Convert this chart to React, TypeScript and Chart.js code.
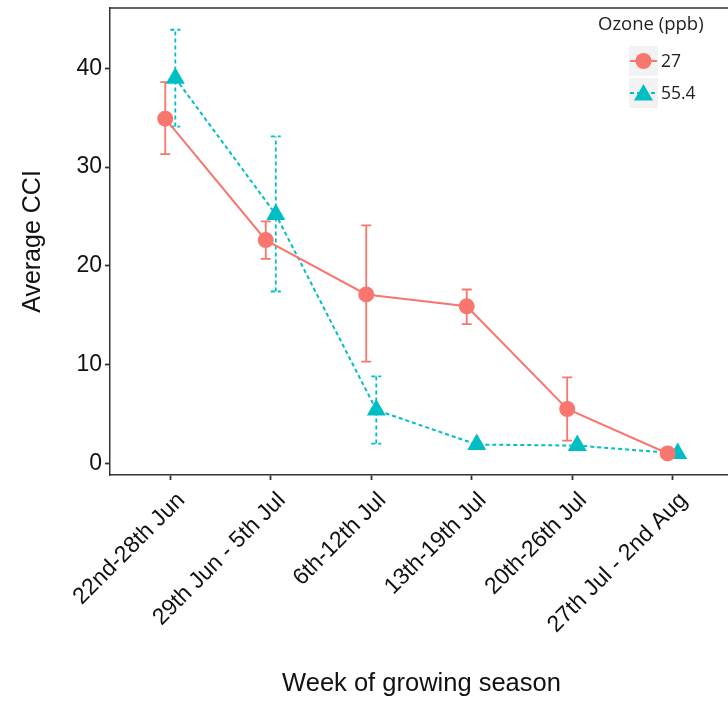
import React, { useEffect, useRef } from "react";
import { Chart, registerables } from "chart.js";

Chart.register(...registerables);

const weeks = [
  "22nd-28th Jun",
  "29th Jun - 5th Jul",
  "6th-12th Jul",
  "13th-19th Jul",
  "20th-26th Jul",
  "27th Jul - 2nd Aug",
];
const ozoneLevels = ["27", "55.4"];
const cci27 = [34.9, 22.6, 17.1, 15.9, 5.5, 1.0];
const cci27Low = [31.3, 20.7, 10.3, 14.1, 2.3, 0.9];
const cci27High = [38.6, 24.5, 24.1, 17.6, 8.7, 1.1];
const cci554 = [39.0, 25.2, 5.4, 1.9, 1.8, 1.0];
const cci554Low = [34.1, 17.4, 2.0, 1.8, 1.7, 0.9];
const cci554High = [43.9, 33.1, 8.8, 2.0, 1.9, 1.1];
const yTicks = [0, 10, 20, 30, 40];

const RED = "#F8766D";
const TEAL = "#00BFC4";
const AXIS = "#333333";
const DODGE = 0.05;

const errorBarPlugin = {
  id: "errorBars",
  beforeDatasetsDraw(chart: any) {
    const ctx = chart.ctx;
    const yScale = chart.scales.y;
    chart.data.datasets.forEach((ds: any, di: number) => {
      const meta = chart.getDatasetMeta(di);
      ctx.save();
      ctx.strokeStyle = ds.borderColor;
      ctx.lineWidth = 1.8;
      ctx.setLineDash(ds.borderDash || []);
      meta.data.forEach((el: any, i: number) => {
        const x = el.x;
        const yl = yScale.getPixelForValue(ds.errLow[i]);
        const yh = yScale.getPixelForValue(ds.errHigh[i]);
        ctx.beginPath();
        ctx.moveTo(x, yl);
        ctx.lineTo(x, yh);
        ctx.moveTo(x - 5, yl);
        ctx.lineTo(x + 5, yl);
        ctx.moveTo(x - 5, yh);
        ctx.lineTo(x + 5, yh);
        ctx.stroke();
      });
      ctx.restore();
    });
  },
};

const framePlugin = {
  id: "frameAndLegend",
  afterDraw(chart: any) {
    const ctx = chart.ctx;
    const a = chart.chartArea;
    ctx.save();
    ctx.strokeStyle = AXIS;
    ctx.lineWidth = 1.5;
    ctx.beginPath();
    ctx.moveTo(a.left, a.top);
    ctx.lineTo(a.right, a.top);
    ctx.lineTo(a.right, a.bottom);
    ctx.stroke();

    // legend
    const lx = 598;
    ctx.fillStyle = "#222";
    ctx.font = "18.5px 'Open Sans'";
    ctx.textAlign = "left";
    ctx.textBaseline = "alphabetic";
    ctx.fillText("Ozone (ppb)", lx, 30);

    const keys = [
      { y: 46, color: RED, style: "circle", radius: 8, dash: [] as number[] },
      { y: 78, color: TEAL, style: "triangle", radius: 11, dash: [4, 3] },
    ];
    keys.forEach((k, i) => {
      ctx.fillStyle = "#F2F2F2";
      ctx.fillRect(629, k.y, 29, 30);
      const cy = k.y + 15;
      ctx.strokeStyle = k.color;
      ctx.lineWidth = 2;
      ctx.setLineDash(k.dash);
      ctx.beginPath();
      ctx.moveTo(630, cy);
      ctx.lineTo(657, cy);
      ctx.stroke();
      ctx.setLineDash([]);
      ctx.fillStyle = k.color;
      ctx.beginPath();
      if (k.style === "circle") {
        ctx.arc(643.5, cy, k.radius, 0, Math.PI * 2);
      } else {
        const r = k.radius;
        const py = cy + 2;
        ctx.moveTo(643.5, py - r);
        ctx.lineTo(643.5 + 0.866 * r, py + 0.5 * r);
        ctx.lineTo(643.5 - 0.866 * r, py + 0.5 * r);
        ctx.closePath();
      }
      ctx.fill();
      ctx.fillStyle = "#222";
      ctx.font = "17.5px 'Open Sans'";
      ctx.textBaseline = "middle";
      ctx.fillText(ozoneLevels[i], 661, cy + 1);
    });
    ctx.restore();
  },
};

export default function App() {
  const canvasRef = useRef<HTMLCanvasElement | null>(null);

  useEffect(() => {
    if (!canvasRef.current) return;
    const chart = new Chart(canvasRef.current, {
      type: "line",
      data: {
        datasets: [
          {
            label: ozoneLevels[0],
            data: cci27.map((v, i) => ({ x: i - DODGE, y: v })),
            borderColor: RED,
            backgroundColor: RED,
            borderWidth: 2,
            pointStyle: "circle",
            pointRadius: 8,
            pointBorderWidth: 0,
            pointBackgroundColor: RED,
            tension: 0,
            clip: false,
            errLow: cci27Low,
            errHigh: cci27High,
          } as any,
          {
            label: ozoneLevels[1],
            data: cci554.map((v, i) => ({ x: i + DODGE, y: v })),
            borderColor: TEAL,
            backgroundColor: TEAL,
            borderWidth: 2,
            borderDash: [4, 3],
            pointStyle: "triangle",
            pointRadius: 11,
            pointBorderWidth: 0,
            pointBackgroundColor: TEAL,
            tension: 0,
            clip: false,
            errLow: cci554Low,
            errHigh: cci554High,
          } as any,
        ],
      },
      options: {
        animation: false,
        responsive: false,
        maintainAspectRatio: false,
        layout: { autoPadding: false, padding: { top: 8, right: 3, left: 0, bottom: 0 } },
        plugins: {
          legend: { display: false },
          tooltip: { enabled: false },
        },
        scales: {
          x: {
            type: "linear",
            min: -0.6,
            max: 5.6,
            afterBuildTicks: (s: any) => {
              s.ticks = weeks.map((_, i) => ({ value: i }));
            },
            afterFit: (s: any) => {
              s.height = 227;
              s.paddingLeft = 0;
              s.paddingRight = 0;
            },
            grid: {
              drawOnChartArea: false,
              drawTicks: true,
              tickLength: 5,
              tickWidth: 1.8,
              tickColor: AXIS,
            },
            border: { display: true, color: AXIS, width: 1.5 },
            ticks: {
              autoSkip: false,
              minRotation: 45,
              maxRotation: 45,
              labelOffset: 11,
              padding: 7,
              color: "#111",
              font: { family: "'Liberation Sans', Arial", size: 23 },
              callback: (v: any) => weeks[Math.round(Number(v))] ?? "",
            },
            title: {
              display: true,
              text: "Week of growing season",
              color: "#111",
              font: { family: "'Liberation Sans', Arial", size: 25.5 },
              padding: { top: 0, bottom: 3 },
            },
          },
          y: {
            type: "linear",
            min: -1.18,
            max: 46.1,
            afterBuildTicks: (s: any) => {
              s.ticks = yTicks.map((v) => ({ value: v }));
            },
            afterFit: (s: any) => {
              s.width = 110;
              s.paddingTop = 0;
              s.paddingBottom = 0;
            },
            grid: {
              drawOnChartArea: false,
              drawTicks: true,
              tickLength: 5,
              tickWidth: 1.8,
              tickColor: AXIS,
            },
            border: { display: true, color: AXIS, width: 1.5 },
            ticks: {
              padding: 3,
              color: "#111",
              font: { family: "'Liberation Sans', Arial", size: 23 },
              callback: (v: any) => String(v),
            },
            title: {
              display: true,
              text: "Average CCI",
              color: "#111",
              font: { family: "'Liberation Sans', Arial", size: 25 },
              padding: { top: 18, bottom: 0 },
            },
          },
        },
      },
      plugins: [errorBarPlugin, framePlugin],
    });
    return () => chart.destroy();
  }, []);

  return (
    <div
      style={{
        position: "fixed",
        left: 0,
        top: 0,
        width: 728,
        height: 702,
        overflow: "hidden",
        background: "#fff",
      }}
    >
      <canvas
        ref={canvasRef}
        width={736}
        height={702}
        style={{ display: "block", width: 736, height: 702 }}
      />
    </div>
  );
}
